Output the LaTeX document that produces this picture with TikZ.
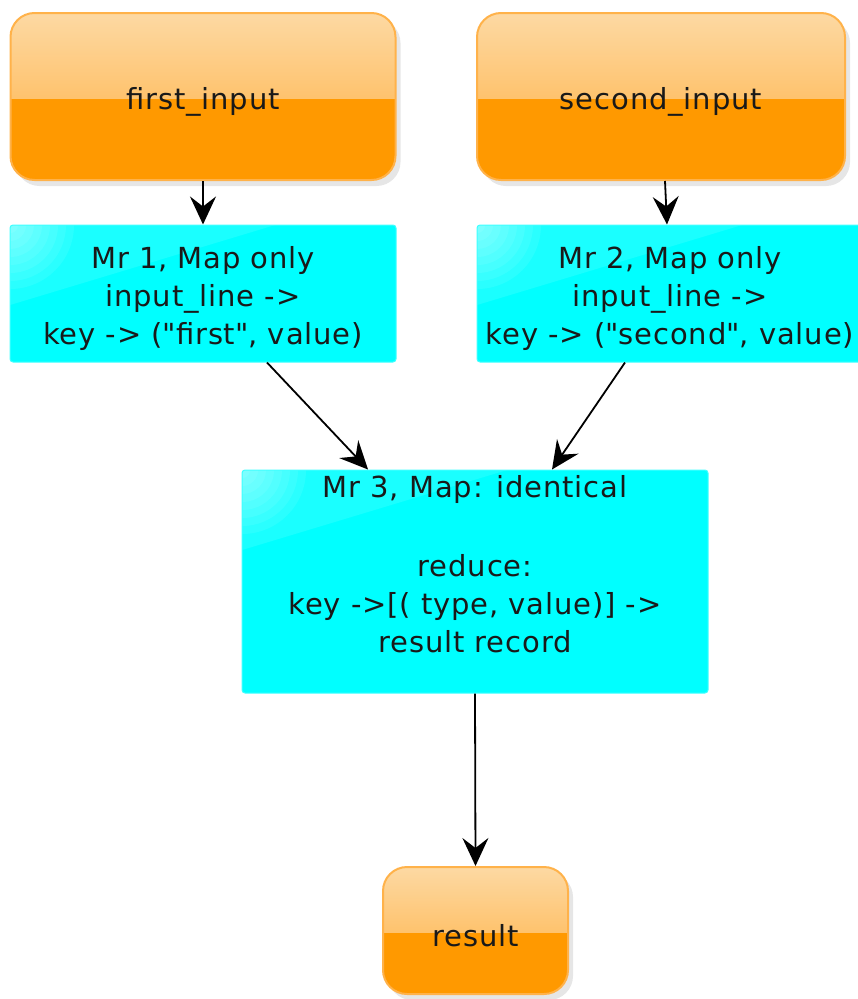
\documentclass[tikz,border=0pt]{standalone}
\usepackage{fontspec}
\setmainfont{DejaVu Sans}[LetterSpace=3]
\usetikzlibrary{arrows.meta,shadows}
\definecolor{orfill}{HTML}{FF9900}
\definecolor{orglosstop}{HTML}{FDD9A3}
\definecolor{orglossbot}{HTML}{FFAD3A}
\definecolor{orline}{HTML}{FFB24A}
\definecolor{cyfill}{HTML}{00FFFF}
\definecolor{cyline}{HTML}{40FFFF}
\newcommand{\lowertext}[1]{\raisebox{-5pt}[\height][\depth]{#1}}
\tikzset{
  boxfont/.style={font=\fontsize{29}{38}\selectfont, align=center, text=black!90},
  orangebox/.style={boxfont, rectangle, rounded corners=24pt, fill=orfill, draw=orline, line width=2pt,
    drop shadow={opacity=0.2, shadow xshift=5pt, shadow yshift=-6pt},
    path picture={\shade[sharp corners, top color=orglosstop, bottom color=orglossbot]
      (path picture bounding box.north west) rectangle ([yshift=-2pt]path picture bounding box.east);}},
  cyanbox/.style={boxfont, rectangle, rounded corners=3pt, fill=cyfill, draw=cyline, line width=1pt,
    path picture={
      \foreach \r in {8,16,...,64}{
        \fill[white, opacity=0.07] (path picture bounding box.north west) circle[radius=\r pt];}
      \fill[sharp corners, white, opacity=0.1]
      (path picture bounding box.north west) -- ++(265,0) -- ++(-265,80) -- cycle;}},
  flow/.style={line width=1.8pt, black, -{Stealth[length=28pt, width=26pt, inset=10pt]}},
}
\begin{document}
\begin{tikzpicture}[x=1pt, y=-1pt]
\useasboundingbox (0,0) rectangle (858,999);
\node[orangebox, minimum width=385, minimum height=167] (first) at (203,96.5) {\lowertext{first\_input}};
\node[orangebox, minimum width=368, minimum height=167] (second) at (661,96.5) {\lowertext{second\_input}};
\node[cyanbox, minimum width=386, minimum height=137] (mr1) at (203,293.5)
  {\lowertext{\begin{tabular}{@{}c@{}}Mr 1, Map only\\input\_line ->\\key -> (\textquotedbl first\textquotedbl, value)\end{tabular}}};
\node[cyanbox, minimum width=386, minimum height=137] (mr2) at (670,293.5)
  {\lowertext{\begin{tabular}{@{}c@{}}Mr 2, Map only\\input\_line ->\\key -> (\textquotedbl second\textquotedbl, value)\end{tabular}}};
\node[cyanbox, minimum width=466, minimum height=223] (mr3) at (475,581.5) {};
\node[boxfont, anchor=north, inner sep=0pt] (mr3text) at ([yshift=-6pt]mr3.north)
  {Mr 3, Map: identical\\[41pt]reduce:\\key ->[( type, value)] ->\\result record};
\node[orangebox, minimum width=185, minimum height=127] (result) at (475.5,930.5) {\lowertext{result}};
\draw[flow] (first.south) -- (mr1.north);
\draw[flow] ([xshift=4pt]second.south) -- ([xshift=-3pt]mr2.north);
\draw[flow] ([xshift=64pt]mr1.south) -- ([xshift=-107pt]mr3.north);
\draw[flow] ([xshift=-45pt]mr2.south) -- ([xshift=77pt]mr3.north);
\draw[flow] (mr3.south) -- (result.north);
\end{tikzpicture}
\end{document}
